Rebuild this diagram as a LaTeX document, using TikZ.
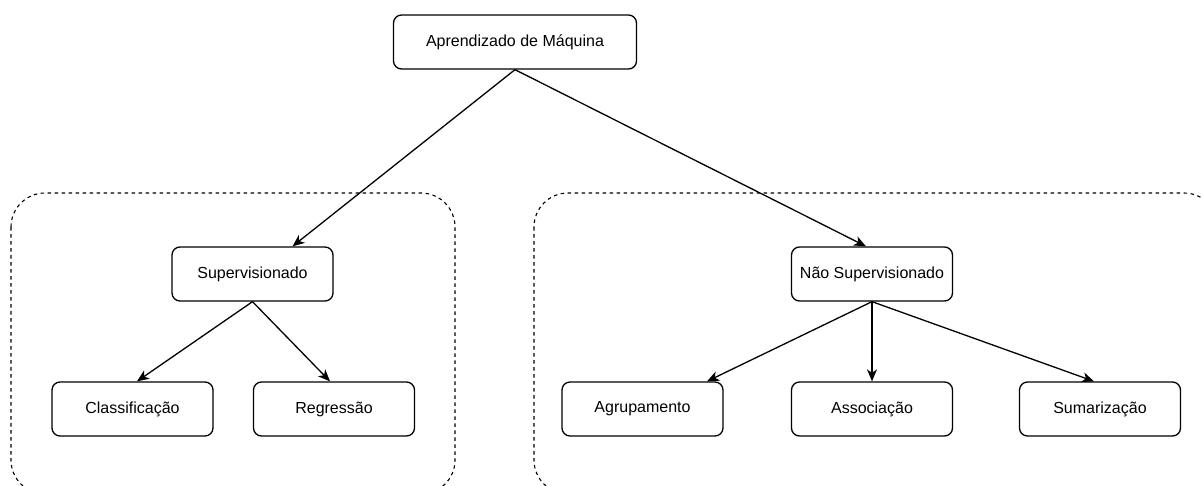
\documentclass[tikz,border=0pt]{standalone}
\usepackage{fontspec}
\setmainfont{Liberation Sans}
\usetikzlibrary{arrows.meta}
\begin{document}
\begin{tikzpicture}[x=1pt,y=-1pt,
  box/.style={draw=black, line width=1.3pt, rounded corners=8pt, fill=white, minimum height=54pt, font=\fontsize{16}{18}\selectfont, inner sep=0pt},
  group/.style={draw=black, line width=1.1pt, dash pattern=on 3.5pt off 3.5pt, rounded corners=34pt},
  arr/.style={line width=1.3pt, -{Stealth[length=12pt,width=10pt,inset=3.5pt]}}]
\useasboundingbox (0,0) rectangle (1203,485);
\clip (0,0) rectangle (1203,485);
\draw[group] (11,193) rectangle (455,494);
\draw[group] (534,193) rectangle (1218,494);
\node[box, minimum width=243pt] (ml) at (515,42) {Aprendizado de Máquina};
\node[box, minimum width=161pt] (sup) at (252.5,274) {Supervisionado};
\node[box, minimum width=161pt] (nsup) at (872,274) {Não Supervisionado};
\node[box, minimum width=161pt] (cla) at (132.5,409) {Classificação};
\node[box, minimum width=161pt] (reg) at (334,409) {Regressão};
\node[box, minimum width=161pt] (agr) at (642.5,409) {Agrupamento};
\node[box, minimum width=161pt] (ass) at (872,409) {Associação};
\node[box, minimum width=161pt] (sum) at (1100,409) {Sumarização};
\coordinate (supin) at ([xshift=40pt]sup.north);
\coordinate (nsupin) at ([xshift=-6pt]nsup.north);
\draw[arr] (ml.south) -- (supin);
\draw[arr] (ml.south) -- (nsupin);
\draw[arr] (sup.south) -- ([xshift=4.5pt]cla.north);
\draw[arr] (sup.south) -- ([xshift=-4pt]reg.north);
\draw[arr] (nsup.south) -- ([xshift=64.5pt]agr.north);
\draw[arr] (nsup.south) -- (ass.north);
\draw[arr] (nsup.south) -- ([xshift=-6pt]sum.north);
\end{tikzpicture}
\end{document}
